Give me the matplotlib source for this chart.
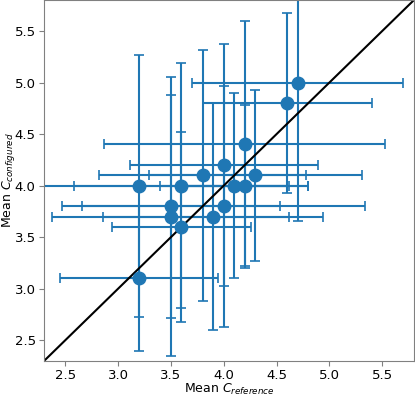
import numpy as np
import matplotlib
matplotlib.use("Agg")
from matplotlib import pyplot as plt

# mean values per item
c_reference = [4.7, 4.6, 4.2, 4.0, 3.8, 4.3, 3.2, 3.6, 4.1, 4.2, 3.5, 4.0, 3.5, 3.9, 3.6, 3.2]
c_configured = [5.0, 4.8, 4.4, 4.2, 4.1, 4.1, 4.0, 4.0, 4.0, 4.0, 3.8, 3.8, 3.7, 3.7, 3.6, 3.1]
# standard deviations
err_reference = [1.0, 0.8, 1.33, 0.89, 0.98, 1.01, 1.4, 1.02, 0.7, 0.6, 1.03, 1.34, 1.12, 1.04, 0.66, 0.75]
err_configured = [1.34, 0.87, 1.2, 1.17, 1.22, 0.83, 1.27, 1.19, 0.9, 0.78, 1.08, 1.17, 1.35, 1.1, 0.92, 0.7]

lims = [2.3, 5.8]
ticks = [2.5, 3.0, 3.5, 4.0, 4.5, 5.0, 5.5]

fig = plt.figure(figsize=(4.15, 3.96), dpi=100)
ax = fig.add_axes([0.1060, 0.0884, 0.8916, 0.9116])

ax.errorbar(c_reference, c_configured, xerr=err_reference, yerr=err_configured,
            fmt='o', color='#1f77b4', ms=9, lw=1.5, capsize=3.8, capthick=1.2)
ax.plot(lims, lims, color='black', lw=1.5)

ax.set_xlim(lims)
ax.set_ylim(lims)
ax.set_xticks(ticks)
ax.set_yticks(ticks)
ax.tick_params(labelsize=9.5, color='0.5', pad=2.5)
for s in ax.spines.values():
    s.set_color('0.5')
ax.set_xlabel('Mean $C_{reference}$', fontsize=9, labelpad=0)
ax.set_ylabel('Mean $C_{configured}$', fontsize=9, labelpad=-1.5)

fig.savefig('out.png', dpi=100)
